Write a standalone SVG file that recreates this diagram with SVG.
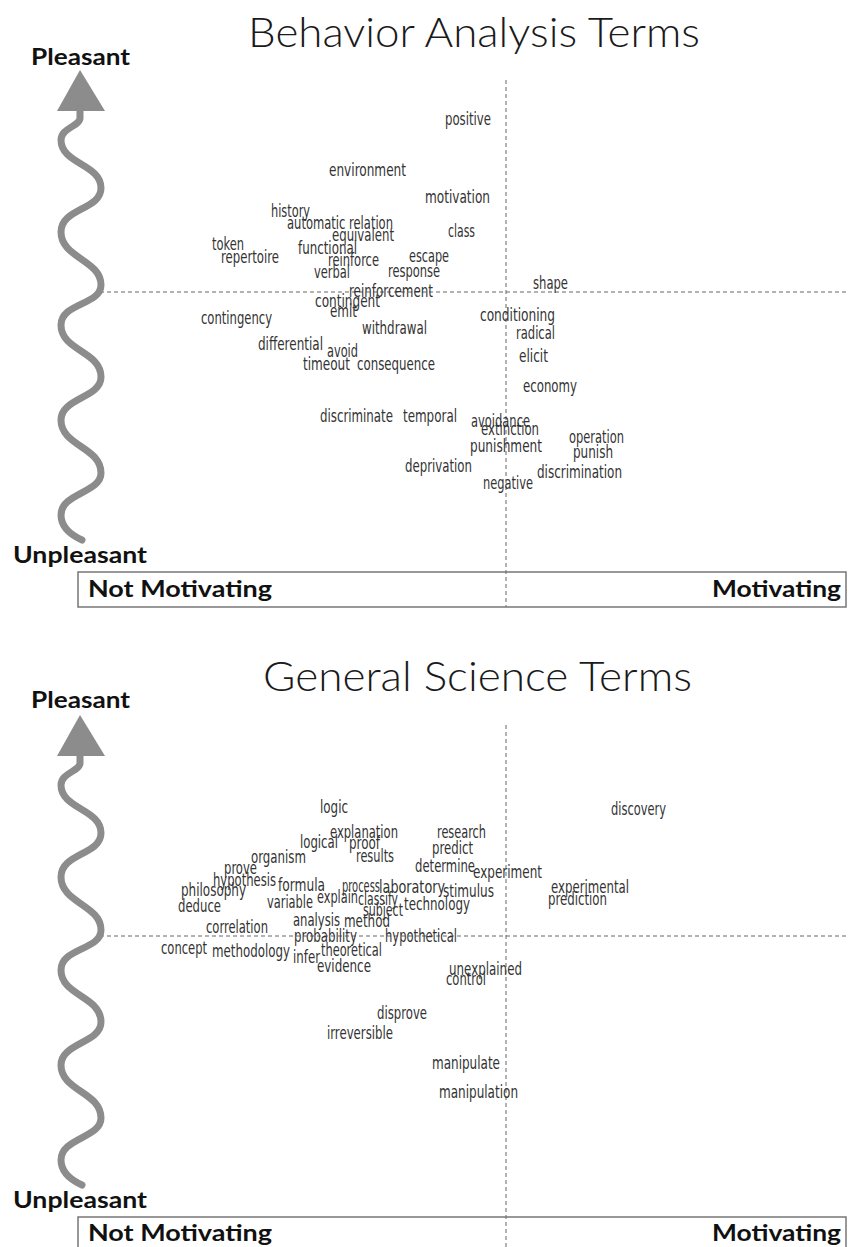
<svg xmlns="http://www.w3.org/2000/svg" width="850" height="1247" viewBox="0 0 850 1247">
<style>
.w{font-family:"Liberation Sans Narrow","DejaVu Sans Condensed","Liberation Sans",sans-serif;font-size:17px;fill:#333}
.ttl{font-family:Lato,"Open Sans","Liberation Sans",sans-serif;font-weight:300;font-size:42px;fill:#1a1a1a}
.lab{font-family:Lato,"Open Sans","Liberation Sans",sans-serif;font-weight:700;font-size:22px;fill:#111}
.dash{stroke:#666;stroke-width:1;stroke-dasharray:4 3;fill:none}
.wave{stroke:#8c8c8c;stroke-width:7;fill:none;stroke-linecap:round;stroke-linejoin:round}
.head{fill:#8c8c8c}
.box{fill:none;stroke:#777;stroke-width:1.5}
</style>
<rect width="850" height="1247" fill="#fff"/>
<defs>
<g id="axisArrow">
<polygon class="head" points="80,70 57,111 105,111"/>
<path class="wave" d="M80,108 L80,118 C80,126 61,128 61,140 C61,164 101,164 101,188 C101,210 61,208 61,232 C61,258 101,260 101,285 C101,305 61,303 61,325 C61,351 101,351 101,377 C101,398 61,398 61,420 C61,446 101,447 101,473 C101,493 61,493 61,515 C61,527 71,535 82,540"/>
</g>
</defs>

<!-- ===== Chart 1 ===== -->
<g id="chart1">
<g id="connectors1">
<line class="dash" x1="100" y1="292" x2="846" y2="292"/>
<line class="dash" x1="506" y1="80" x2="506" y2="607"/>
</g>
<g id="title1"><text class="ttl" x="248" y="47" textLength="452" lengthAdjust="spacingAndGlyphs">Behavior Analysis Terms</text></g>
<g id="yaxis1"><use href="#axisArrow"/></g>
<g id="pleasant1"><text class="lab" x="31" y="65" textLength="99" lengthAdjust="spacingAndGlyphs">Pleasant</text></g>
<g id="unpleasant1"><text class="lab" x="13" y="563" textLength="134" lengthAdjust="spacingAndGlyphs">Unpleasant</text></g>
<g id="xaxis1">
<rect class="box" x="78" y="572" width="768" height="35"/>
<text class="lab" x="88" y="597" textLength="184" lengthAdjust="spacingAndGlyphs">Not Motivating</text>
<text class="lab" x="712" y="597" textLength="129" lengthAdjust="spacingAndGlyphs">Motivating</text>
</g>
<g id="words1">
<g id="w1-positive"><text class="w" x="445" y="125" textLength="46" lengthAdjust="spacingAndGlyphs">positive</text></g>
<g id="w1-environment"><text class="w" x="329" y="176" textLength="77" lengthAdjust="spacingAndGlyphs">environment</text></g>
<g id="w1-motivation"><text class="w" x="425" y="203" textLength="65" lengthAdjust="spacingAndGlyphs">motivation</text></g>
<g id="w1-history"><text class="w" x="271" y="217" textLength="39" lengthAdjust="spacingAndGlyphs">history</text></g>
<g id="w1-automatic-relation"><text class="w" x="287" y="229" textLength="106" lengthAdjust="spacingAndGlyphs">automatic relation</text></g>
<g id="w1-equivalent"><text class="w" x="332" y="241" textLength="62" lengthAdjust="spacingAndGlyphs">equivalent</text></g>
<g id="w1-class"><text class="w" x="448" y="237" textLength="27" lengthAdjust="spacingAndGlyphs">class</text></g>
<g id="w1-token"><text class="w" x="212" y="250" textLength="32" lengthAdjust="spacingAndGlyphs">token</text></g>
<g id="w1-repertoire"><text class="w" x="221" y="263" textLength="58" lengthAdjust="spacingAndGlyphs">repertoire</text></g>
<g id="w1-functional"><text class="w" x="298" y="254" textLength="59" lengthAdjust="spacingAndGlyphs">functional</text></g>
<g id="w1-reinforce"><text class="w" x="328" y="266" textLength="51" lengthAdjust="spacingAndGlyphs">reinforce</text></g>
<g id="w1-escape"><text class="w" x="409" y="262" textLength="40" lengthAdjust="spacingAndGlyphs">escape</text></g>
<g id="w1-verbal"><text class="w" x="314" y="278" textLength="36" lengthAdjust="spacingAndGlyphs">verbal</text></g>
<g id="w1-response"><text class="w" x="388" y="277" textLength="52" lengthAdjust="spacingAndGlyphs">response</text></g>
<g id="w1-shape"><text class="w" x="533" y="289" textLength="35" lengthAdjust="spacingAndGlyphs">shape</text></g>
<g id="w1-reinforcement"><text class="w" x="349" y="297" textLength="84" lengthAdjust="spacingAndGlyphs">reinforcement</text></g>
<g id="w1-contingent"><text class="w" x="315" y="307" textLength="65" lengthAdjust="spacingAndGlyphs">contingent</text></g>
<g id="w1-emit"><text class="w" x="330" y="317" textLength="27" lengthAdjust="spacingAndGlyphs">emit</text></g>
<g id="w1-contingency"><text class="w" x="201" y="324" textLength="71" lengthAdjust="spacingAndGlyphs">contingency</text></g>
<g id="w1-conditioning"><text class="w" x="480" y="321" textLength="75" lengthAdjust="spacingAndGlyphs">conditioning</text></g>
<g id="w1-withdrawal"><text class="w" x="362" y="334" textLength="65" lengthAdjust="spacingAndGlyphs">withdrawal</text></g>
<g id="w1-radical"><text class="w" x="516" y="339" textLength="39" lengthAdjust="spacingAndGlyphs">radical</text></g>
<g id="w1-differential"><text class="w" x="258" y="350" textLength="65" lengthAdjust="spacingAndGlyphs">differential</text></g>
<g id="w1-avoid"><text class="w" x="327" y="357" textLength="31" lengthAdjust="spacingAndGlyphs">avoid</text></g>
<g id="w1-timeout"><text class="w" x="303" y="370" textLength="47" lengthAdjust="spacingAndGlyphs">timeout</text></g>
<g id="w1-consequence"><text class="w" x="357" y="370" textLength="78" lengthAdjust="spacingAndGlyphs">consequence</text></g>
<g id="w1-elicit"><text class="w" x="519" y="362" textLength="29" lengthAdjust="spacingAndGlyphs">elicit</text></g>
<g id="w1-economy"><text class="w" x="523" y="392" textLength="54" lengthAdjust="spacingAndGlyphs">economy</text></g>
<g id="w1-discriminate"><text class="w" x="320" y="422" textLength="73" lengthAdjust="spacingAndGlyphs">discriminate</text></g>
<g id="w1-temporal"><text class="w" x="403" y="422" textLength="54" lengthAdjust="spacingAndGlyphs">temporal</text></g>
<g id="w1-avoidance"><text class="w" x="471" y="427" textLength="59" lengthAdjust="spacingAndGlyphs">avoidance</text></g>
<g id="w1-extinction"><text class="w" x="481" y="435" textLength="58" lengthAdjust="spacingAndGlyphs">extinction</text></g>
<g id="w1-operation"><text class="w" x="569" y="443" textLength="55" lengthAdjust="spacingAndGlyphs">operation</text></g>
<g id="w1-punishment"><text class="w" x="470" y="452" textLength="72" lengthAdjust="spacingAndGlyphs">punishment</text></g>
<g id="w1-punish"><text class="w" x="573" y="458" textLength="40" lengthAdjust="spacingAndGlyphs">punish</text></g>
<g id="w1-deprivation"><text class="w" x="405" y="472" textLength="67" lengthAdjust="spacingAndGlyphs">deprivation</text></g>
<g id="w1-discrimination"><text class="w" x="537" y="478" textLength="85" lengthAdjust="spacingAndGlyphs">discrimination</text></g>
<g id="w1-negative"><text class="w" x="483" y="489" textLength="50" lengthAdjust="spacingAndGlyphs">negative</text></g>
</g>
</g>

<!-- ===== Chart 2 ===== -->
<g id="chart2">
<g id="connectors2">
<line class="dash" x1="100" y1="936" x2="846" y2="936"/>
<line class="dash" x1="506" y1="725" x2="506" y2="1247"/>
</g>
<g id="title2"><text class="ttl" x="263" y="691" textLength="429" lengthAdjust="spacingAndGlyphs">General Science Terms</text></g>
<g id="yaxis2"><use href="#axisArrow" transform="translate(0,645)"/></g>
<g id="pleasant2"><text class="lab" x="31" y="708" textLength="99" lengthAdjust="spacingAndGlyphs">Pleasant</text></g>
<g id="unpleasant2"><text class="lab" x="13" y="1208" textLength="134" lengthAdjust="spacingAndGlyphs">Unpleasant</text></g>
<g id="xaxis2">
<rect class="box" x="78" y="1217" width="768" height="45"/>
<text class="lab" x="88" y="1241" textLength="184" lengthAdjust="spacingAndGlyphs">Not Motivating</text>
<text class="lab" x="712" y="1241" textLength="129" lengthAdjust="spacingAndGlyphs">Motivating</text>
</g>
<g id="words2">
<g id="w2-logic"><text class="w" x="320" y="813" textLength="28" lengthAdjust="spacingAndGlyphs">logic</text></g>
<g id="w2-discovery"><text class="w" x="611" y="815" textLength="55" lengthAdjust="spacingAndGlyphs">discovery</text></g>
<g id="w2-explanation"><text class="w" x="330" y="838" textLength="68" lengthAdjust="spacingAndGlyphs">explanation</text></g>
<g id="w2-research"><text class="w" x="437" y="838" textLength="49" lengthAdjust="spacingAndGlyphs">research</text></g>
<g id="w2-logical"><text class="w" x="300" y="848" textLength="38" lengthAdjust="spacingAndGlyphs">logical</text></g>
<g id="w2-proof"><text class="w" x="349" y="849" textLength="31" lengthAdjust="spacingAndGlyphs">proof</text></g>
<g id="w2-predict"><text class="w" x="432" y="854" textLength="41" lengthAdjust="spacingAndGlyphs">predict</text></g>
<g id="w2-results"><text class="w" x="356" y="862" textLength="38" lengthAdjust="spacingAndGlyphs">results</text></g>
<g id="w2-organism"><text class="w" x="251" y="863" textLength="55" lengthAdjust="spacingAndGlyphs">organism</text></g>
<g id="w2-determine"><text class="w" x="415" y="872" textLength="60" lengthAdjust="spacingAndGlyphs">determine</text></g>
<g id="w2-prove"><text class="w" x="224" y="874" textLength="33" lengthAdjust="spacingAndGlyphs">prove</text></g>
<g id="w2-experiment"><text class="w" x="473" y="878" textLength="69" lengthAdjust="spacingAndGlyphs">experiment</text></g>
<g id="w2-hypothesis"><text class="w" x="213" y="886" textLength="63" lengthAdjust="spacingAndGlyphs">hypothesis</text></g>
<g id="w2-formula"><text class="w" x="278" y="891" textLength="47" lengthAdjust="spacingAndGlyphs">formula</text></g>
<g id="w2-process"><text class="w" x="342" y="892" textLength="38" lengthAdjust="spacingAndGlyphs">process</text></g>
<g id="w2-laboratory"><text class="w" x="379" y="893" textLength="66" lengthAdjust="spacingAndGlyphs">laboratory</text></g>
<g id="w2-stimulus"><text class="w" x="443" y="897" textLength="51" lengthAdjust="spacingAndGlyphs">stimulus</text></g>
<g id="w2-experimental"><text class="w" x="551" y="893" textLength="78" lengthAdjust="spacingAndGlyphs">experimental</text></g>
<g id="w2-philosophy"><text class="w" x="181" y="896" textLength="65" lengthAdjust="spacingAndGlyphs">philosophy</text></g>
<g id="w2-explain"><text class="w" x="317" y="903" textLength="41" lengthAdjust="spacingAndGlyphs">explain</text></g>
<g id="w2-classify"><text class="w" x="358" y="905" textLength="40" lengthAdjust="spacingAndGlyphs">classify</text></g>
<g id="w2-prediction"><text class="w" x="548" y="905" textLength="59" lengthAdjust="spacingAndGlyphs">prediction</text></g>
<g id="w2-variable"><text class="w" x="267" y="908" textLength="46" lengthAdjust="spacingAndGlyphs">variable</text></g>
<g id="w2-technology"><text class="w" x="404" y="910" textLength="66" lengthAdjust="spacingAndGlyphs">technology</text></g>
<g id="w2-deduce"><text class="w" x="178" y="912" textLength="43" lengthAdjust="spacingAndGlyphs">deduce</text></g>
<g id="w2-subject"><text class="w" x="363" y="916" textLength="40" lengthAdjust="spacingAndGlyphs">subject</text></g>
<g id="w2-analysis"><text class="w" x="293" y="926" textLength="47" lengthAdjust="spacingAndGlyphs">analysis</text></g>
<g id="w2-method"><text class="w" x="344" y="927" textLength="46" lengthAdjust="spacingAndGlyphs">method</text></g>
<g id="w2-correlation"><text class="w" x="206" y="933" textLength="62" lengthAdjust="spacingAndGlyphs">correlation</text></g>
<g id="w2-probability"><text class="w" x="294" y="942" textLength="63" lengthAdjust="spacingAndGlyphs">probability</text></g>
<g id="w2-hypothetical"><text class="w" x="385" y="942" textLength="72" lengthAdjust="spacingAndGlyphs">hypothetical</text></g>
<g id="w2-concept"><text class="w" x="161" y="954" textLength="46" lengthAdjust="spacingAndGlyphs">concept</text></g>
<g id="w2-theoretical"><text class="w" x="321" y="956" textLength="61" lengthAdjust="spacingAndGlyphs">theoretical</text></g>
<g id="w2-methodology"><text class="w" x="212" y="957" textLength="78" lengthAdjust="spacingAndGlyphs">methodology</text></g>
<g id="w2-infer"><text class="w" x="293" y="963" textLength="27" lengthAdjust="spacingAndGlyphs">infer</text></g>
<g id="w2-evidence"><text class="w" x="317" y="972" textLength="54" lengthAdjust="spacingAndGlyphs">evidence</text></g>
<g id="w2-unexplained"><text class="w" x="449" y="975" textLength="73" lengthAdjust="spacingAndGlyphs">unexplained</text></g>
<g id="w2-control"><text class="w" x="446" y="985" textLength="40" lengthAdjust="spacingAndGlyphs">control</text></g>
<g id="w2-disprove"><text class="w" x="377" y="1019" textLength="50" lengthAdjust="spacingAndGlyphs">disprove</text></g>
<g id="w2-irreversible"><text class="w" x="327" y="1039" textLength="66" lengthAdjust="spacingAndGlyphs">irreversible</text></g>
<g id="w2-manipulate"><text class="w" x="432" y="1069" textLength="68" lengthAdjust="spacingAndGlyphs">manipulate</text></g>
<g id="w2-manipulation"><text class="w" x="439" y="1098" textLength="79" lengthAdjust="spacingAndGlyphs">manipulation</text></g>
</g>
</g>
</svg>
